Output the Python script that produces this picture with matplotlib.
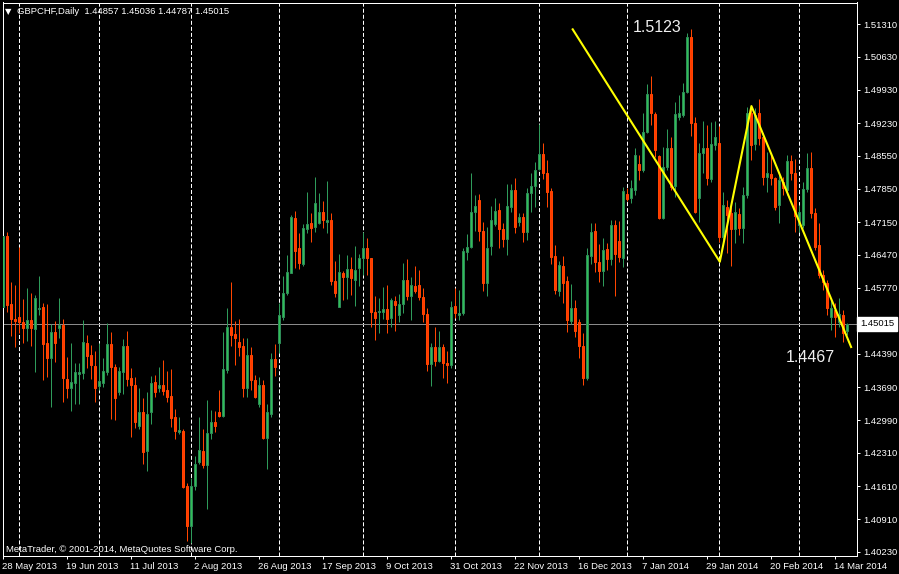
import matplotlib
matplotlib.use("Agg")
import matplotlib.pyplot as plt
from matplotlib.patches import Rectangle
import matplotlib.transforms as mtransforms
import numpy as np
import pandas as pd

plt.rcParams['font.family'] = ['Liberation Sans', 'DejaVu Sans']
plt.rcParams['lines.scale_dashes'] = False

# ---------------- data (GBPCHF daily) ----------------
start_date = "2013-05-28"

opens = [
    1.4537, 1.4686, 1.4544, 1.4512, 1.4516, 1.4506, 1.4493, 1.4510, 1.4491, 1.4533,
    1.4537, 1.4462, 1.4430, 1.4485, 1.4493, 1.4500, 1.4386, 1.4367, 1.4378, 1.4397,
    1.4399, 1.4462, 1.4436, 1.4413, 1.4371, 1.4378, 1.4401, 1.4460, 1.4411, 1.4359,
    1.4401, 1.4455, 1.4388, 1.4374, 1.4288, 1.4316, 1.4234, 1.4316, 1.4380, 1.4367,
    1.4374, 1.4363, 1.4350, 1.4305, 1.4274, 1.4276, 1.4162, 1.4078, 1.4162, 1.4211,
    1.4234, 1.4205, 1.4272, 1.4295, 1.4316, 1.4309, 1.4405, 1.4495, 1.4481, 1.4464,
    1.4455, 1.4367, 1.4436, 1.4384, 1.4333, 1.4374, 1.4261, 1.4312, 1.4428, 1.4462,
    1.4516, 1.4567, 1.4609, 1.4724, 1.4661, 1.4628, 1.4701, 1.4714, 1.4705, 1.4714,
    1.4737, 1.4716, 1.4720, 1.4592, 1.4537, 1.4609, 1.4600, 1.4617, 1.4594, 1.4619,
    1.4640, 1.4661, 1.4640, 1.4527, 1.4527, 1.4527, 1.4533, 1.4514, 1.4550, 1.4521,
    1.4544, 1.4594, 1.4561, 1.4582, 1.4584, 1.4558, 1.4523, 1.4418, 1.4453, 1.4424,
    1.4453, 1.4420, 1.4416, 1.4540, 1.4521, 1.4525, 1.4653, 1.4663, 1.4737, 1.4762,
    1.4697, 1.4588, 1.4665, 1.4712, 1.4741, 1.4701, 1.4680, 1.4747, 1.4783, 1.4716,
    1.4726, 1.4695, 1.4777, 1.4791, 1.4827, 1.4858, 1.4818, 1.4781, 1.4644, 1.4571,
    1.4623, 1.4592, 1.4508, 1.4535, 1.4506, 1.4455, 1.4388, 1.4644, 1.4697, 1.4632,
    1.4613, 1.4659, 1.4638, 1.4710, 1.4676, 1.4640, 1.4774, 1.4766, 1.4783, 1.4837,
    1.4825, 1.4904, 1.4984, 1.4942, 1.4854, 1.4724, 1.4831, 1.4871, 1.4791, 1.4936,
    1.4940, 1.4988, 1.5103, 1.4923, 1.4766, 1.4860, 1.4871, 1.4806, 1.4877, 1.4881,
    1.4684, 1.4747, 1.4735, 1.4701, 1.4733, 1.4703, 1.4772, 1.4944, 1.4879, 1.4944,
    1.4894, 1.4810, 1.4816, 1.4808, 1.4751, 1.4800, 1.4783, 1.4844, 1.4818, 1.4710,
    1.4710, 1.4785, 1.4829, 1.4735, 1.4667, 1.4605, 1.4588, 1.4516, 1.4531, 1.4506,
    1.4521, 1.44857,
]
highs = [
    1.4703, 1.4695, 1.4590, 1.4584, 1.4663, 1.4554, 1.4577, 1.4567, 1.4563, 1.4602,
    1.4546, 1.4544, 1.4502, 1.4508, 1.4556, 1.4512, 1.4432, 1.4462, 1.4420, 1.4420,
    1.4510, 1.4479, 1.4458, 1.4445, 1.4462, 1.4430, 1.4504, 1.4485, 1.4418, 1.4411,
    1.4470, 1.4487, 1.4409, 1.4390, 1.4367, 1.4345, 1.4359, 1.4392, 1.4395, 1.4411,
    1.4426, 1.4403, 1.4407, 1.4322, 1.4307, 1.4280, 1.4167, 1.4179, 1.4225, 1.4307,
    1.4280, 1.4341, 1.4320, 1.4318, 1.4363, 1.4485, 1.4535, 1.4590, 1.4508, 1.4512,
    1.4472, 1.4472, 1.4453, 1.4395, 1.4390, 1.4384, 1.4333, 1.4441, 1.4460, 1.4546,
    1.4602, 1.4647, 1.4731, 1.4739, 1.4693, 1.4712, 1.4779, 1.4735, 1.4810, 1.4777,
    1.4760, 1.4802, 1.4735, 1.4634, 1.4649, 1.4613, 1.4647, 1.4642, 1.4665, 1.4649,
    1.4695, 1.4682, 1.4640, 1.4561, 1.4556, 1.4579, 1.4584, 1.4556, 1.4561, 1.4565,
    1.4630, 1.4638, 1.4600, 1.4623, 1.4615, 1.4577, 1.4535, 1.4462, 1.4495, 1.4487,
    1.4460, 1.4445, 1.4550, 1.4577, 1.4573, 1.4661, 1.4691, 1.4818, 1.4772, 1.4774,
    1.4716, 1.4705, 1.4749, 1.4766, 1.4756, 1.4714, 1.4795, 1.4795, 1.4808, 1.4735,
    1.4735, 1.4787, 1.4818, 1.4842, 1.4921, 1.4881, 1.4846, 1.4787, 1.4667, 1.4634,
    1.4644, 1.4602, 1.4586, 1.4552, 1.4512, 1.4483, 1.4661, 1.4714, 1.4714, 1.4670,
    1.4682, 1.4672, 1.4720, 1.4720, 1.4718, 1.4789, 1.4787, 1.4804, 1.4871, 1.4856,
    1.4944, 1.5005, 1.5022, 1.4946, 1.4856, 1.4873, 1.4911, 1.4894, 1.4967, 1.4982,
    1.5007, 1.5112, 1.5120, 1.4936, 1.4881, 1.4927, 1.4919, 1.4925, 1.4927, 1.4917,
    1.4779, 1.4762, 1.4756, 1.4758, 1.4745, 1.4789, 1.4957, 1.4959, 1.4955, 1.4973,
    1.4902, 1.4862, 1.4860, 1.4810, 1.4818, 1.4810, 1.4856, 1.4856, 1.4848, 1.4751,
    1.4800, 1.4860, 1.4862, 1.4745, 1.4714, 1.4615, 1.4594, 1.4556, 1.4546, 1.4556,
    1.4531, 1.45036,
]
lows = [
    1.4527, 1.4527, 1.4476, 1.4453, 1.4483, 1.4462, 1.4466, 1.4455, 1.4401, 1.4521,
    1.4384, 1.4390, 1.4328, 1.4422, 1.4472, 1.4337, 1.4346, 1.4318, 1.4333, 1.4333,
    1.4386, 1.4409, 1.4386, 1.4337, 1.4363, 1.4369, 1.4395, 1.4301, 1.4299, 1.4353,
    1.4355, 1.4371, 1.4265, 1.4284, 1.4280, 1.4207, 1.4192, 1.4291, 1.4348, 1.4359,
    1.4353, 1.4337, 1.4286, 1.4259, 1.4270, 1.4158, 1.4045, 1.4041, 1.4152, 1.4207,
    1.4200, 1.4112, 1.4259, 1.4274, 1.4307, 1.4305, 1.4399, 1.4455, 1.4416, 1.4434,
    1.4348, 1.4348, 1.4363, 1.4346, 1.4326, 1.4259, 1.4196, 1.4307, 1.4393, 1.4441,
    1.4510, 1.4563, 1.4609, 1.4619, 1.4617, 1.4623, 1.4693, 1.4674, 1.4695, 1.4712,
    1.4703, 1.4693, 1.4584, 1.4558, 1.4537, 1.4552, 1.4554, 1.4563, 1.4540, 1.4582,
    1.4605, 1.4605, 1.4495, 1.4468, 1.4483, 1.4512, 1.4483, 1.4495, 1.4487, 1.4506,
    1.4525, 1.4552, 1.4510, 1.4567, 1.4552, 1.4506, 1.4403, 1.4371, 1.4413, 1.4422,
    1.4388, 1.4378, 1.4409, 1.4514, 1.4510, 1.4521, 1.4636, 1.4661, 1.4697, 1.4676,
    1.4571, 1.4561, 1.4647, 1.4707, 1.4661, 1.4663, 1.4647, 1.4737, 1.4693, 1.4707,
    1.4674, 1.4678, 1.4737, 1.4747, 1.4825, 1.4806, 1.4747, 1.4628, 1.4565, 1.4561,
    1.4546, 1.4485, 1.4502, 1.4475, 1.4430, 1.4374, 1.4384, 1.4628, 1.4611, 1.4590,
    1.4582, 1.4615, 1.4626, 1.4561, 1.4632, 1.4621, 1.4760, 1.4756, 1.4772, 1.4804,
    1.4821, 1.4902, 1.4919, 1.4852, 1.4722, 1.4722, 1.4825, 1.4783, 1.4768, 1.4929,
    1.4936, 1.4986, 1.4896, 1.4735, 1.4716, 1.4818, 1.4793, 1.4800, 1.4867, 1.4674,
    1.4678, 1.4651, 1.4623, 1.4672, 1.4688, 1.4672, 1.4766, 1.4846, 1.4867, 1.4877,
    1.4793, 1.4779, 1.4793, 1.4741, 1.4714, 1.4772, 1.4772, 1.4804, 1.4695, 1.4695,
    1.4703, 1.4779, 1.4724, 1.4657, 1.4598, 1.4573, 1.4521, 1.4489, 1.4475, 1.4495,
    1.4464, 1.44787,
]
closes = [
    1.4686, 1.4542, 1.4512, 1.4508, 1.4506, 1.4493, 1.4510, 1.4493, 1.4556, 1.4535,
    1.4460, 1.4430, 1.4485, 1.4462, 1.4500, 1.4388, 1.4367, 1.4380, 1.4401, 1.4401,
    1.4464, 1.4434, 1.4416, 1.4367, 1.4382, 1.4403, 1.4460, 1.4411, 1.4346, 1.4403,
    1.4455, 1.4386, 1.4374, 1.4295, 1.4316, 1.4232, 1.4312, 1.4378, 1.4359, 1.4374,
    1.4361, 1.4348, 1.4303, 1.4276, 1.4278, 1.4160, 1.4078, 1.4162, 1.4207, 1.4236,
    1.4205, 1.4272, 1.4295, 1.4288, 1.4309, 1.4407, 1.4495, 1.4479, 1.4472, 1.4453,
    1.4367, 1.4436, 1.4384, 1.4348, 1.4374, 1.4261, 1.4316, 1.4428, 1.4411, 1.4521,
    1.4567, 1.4611, 1.4726, 1.4655, 1.4630, 1.4703, 1.4712, 1.4703, 1.4756, 1.4737,
    1.4720, 1.4720, 1.4592, 1.4567, 1.4611, 1.4600, 1.4617, 1.4598, 1.4615, 1.4640,
    1.4661, 1.4640, 1.4527, 1.4514, 1.4529, 1.4533, 1.4512, 1.4552, 1.4542, 1.4544,
    1.4594, 1.4561, 1.4584, 1.4571, 1.4558, 1.4523, 1.4418, 1.4453, 1.4424, 1.4453,
    1.4420, 1.4416, 1.4537, 1.4525, 1.4525, 1.4655, 1.4663, 1.4737, 1.4749, 1.4697,
    1.4588, 1.4661, 1.4720, 1.4739, 1.4701, 1.4680, 1.4749, 1.4783, 1.4705, 1.4726,
    1.4695, 1.4777, 1.4791, 1.4825, 1.4858, 1.4818, 1.4779, 1.4642, 1.4573, 1.4626,
    1.4588, 1.4510, 1.4535, 1.4487, 1.4455, 1.4388, 1.4647, 1.4695, 1.4632, 1.4613,
    1.4657, 1.4638, 1.4710, 1.4649, 1.4642, 1.4781, 1.4764, 1.4787, 1.4856, 1.4825,
    1.4904, 1.4984, 1.4944, 1.4867, 1.4724, 1.4831, 1.4871, 1.4789, 1.4942, 1.4944,
    1.4988, 1.5103, 1.4923, 1.4737, 1.4860, 1.4871, 1.4808, 1.4879, 1.4894, 1.4684,
    1.4751, 1.4730, 1.4701, 1.4737, 1.4703, 1.4772, 1.4944, 1.4877, 1.4940, 1.4892,
    1.4810, 1.4818, 1.4808, 1.4747, 1.4804, 1.4787, 1.4844, 1.4818, 1.4728, 1.4737,
    1.4785, 1.4829, 1.4735, 1.4663, 1.4605, 1.4590, 1.4535, 1.4535, 1.4516, 1.4523,
    1.4483, 1.45015,
]

price_ticks = [1.51310, 1.50630, 1.49930, 1.49230, 1.48550, 1.47850, 1.47150, 1.46470,
               1.45770, 1.45070, 1.44390, 1.43690, 1.42990, 1.42310, 1.41610, 1.40910, 1.40230]

# zigzag trend lines drawn by the user (bar position, price)
zigzag_bar = [142.2, 179.1, 187.0, 212.0]
zigzag_price = [1.5122, 1.4632, 1.4959, 1.4451]
high_label, low_label = "1.5123", "1.4467"

title = "GBPCHF,Daily  1.44857 1.45036 1.44787 1.45015"
copyright_text = "MetaTrader, \u00a9 2001-2014, MetaQuotes Software Corp."

# ---------------- figure ----------------
W, H = 899, 574
FS = 6.8
fig = plt.figure(figsize=(W / 100, H / 100), dpi=100, facecolor="black")
ax_l, ax_r, ax_t, ax_b = 2.5, 856.5, 2.5, 555.5
ax = fig.add_axes([ax_l / W, (H - ax_b) / H, (ax_r - ax_l) / W, (ax_b - ax_t) / H])
ax.set_facecolor("black")

n = len(closes)
dates = pd.bdate_range(start_date, periods=n)
xs = np.arange(n)

UP_FILL, UP_EDGE, UP_WICK = "#2fbf55", "#2e8b57", "#2e9b5a"
DN_FILL, DN_EDGE, DN_WICK = "#ff3a00", "#ff4500", "#ff4500"
px = 0.72  # one pixel in points

# month separators (dashed vertical grid)
months = dates.month
for i in range(1, n):
    if months[i] != months[i - 1]:
        ax.axvline(xs[i], color="white", lw=px, linestyle=(0, (2.9, 1.45)), zorder=1)

# current price line
ax.axhline(closes[-1], color="#8a8a8a", lw=px, zorder=1.5)

bw = 0.5
for x, o, h, l, c in zip(xs, opens, highs, lows, closes):
    up = c >= o
    ax.vlines(x, l, h, color=UP_WICK if up else DN_WICK, lw=px, zorder=2)
    lo, hi = min(o, c), max(o, c)
    ax.add_patch(Rectangle((x - bw / 2, lo), bw, hi - lo,
                           facecolor=UP_FILL if up else DN_FILL,
                           edgecolor=UP_EDGE if up else DN_EDGE, lw=px, zorder=3))

ax.plot(zigzag_bar, zigzag_price, color="#ffff00", lw=1.5, zorder=4, solid_capstyle="butt")
ax.text(157.3, 1.5114, high_label, color="#f0f0f0", fontsize=11.5,
        va="baseline", ha="left", zorder=5)
ax.text(195.5, 1.4422, low_label, color="#f0f0f0", fontsize=11.5,
        va="baseline", ha="left", zorder=5)

ax.set_xlim(-0.125, 213.25)
ax.set_ylim(1.40152, 1.51765)

# axes styling
for s in ax.spines.values():
    s.set_color("white")
    s.set_linewidth(px)

cur = closes[-1]
ax.yaxis.tick_right()
ax.set_yticks(price_ticks)
# the scale label nearest the current price is covered by the price box
ax.set_yticklabels(["" if abs(v - cur) < 0.001 else f"{v:.5f}" for v in price_ticks])
ax.tick_params(axis="y", colors="white", length=2.5, width=px, pad=2.5, labelsize=FS)

tick_idx = list(range(0, n, 16))
ax.set_xticks(tick_idx)
ax.set_xticklabels([f"{dates[i].day} {dates[i].strftime('%b %Y')}" for i in tick_idx])
for lbl in ax.get_xticklabels():
    lbl.set_ha("left")
ax.tick_params(axis="x", colors="white", length=2.5, width=px, pad=2, labelsize=FS)
offset = mtransforms.ScaledTranslation(-1 / 100, 0, fig.dpi_scale_trans)
for lbl in ax.get_xticklabels():
    lbl.set_transform(lbl.get_transform() + offset)

# current price box on the scale
trans = mtransforms.blended_transform_factory(ax.transAxes, ax.transData)
ax.text(1.0 + 3.5 / (ax_r - ax_l), cur, f"{cur:.5f}", transform=trans,
        color="black", fontsize=FS, va="center", ha="left", zorder=10, clip_on=False,
        bbox=dict(boxstyle="square,pad=0.3", facecolor="white", edgecolor="white"))

# header and copyright
fig.text(5 / W, 1 - 14 / H, "\u25bc", color="white", fontsize=6,
         family=["DejaVu Sans"], va="baseline", ha="left")
fig.text(17 / W, 1 - 14.5 / H, title, color="white", fontsize=FS, va="baseline", ha="left")
fig.text(6 / W, 1 - 552 / H, copyright_text, color="white", fontsize=FS, va="baseline", ha="left")

fig.savefig("out.png", dpi=100, facecolor="black")
